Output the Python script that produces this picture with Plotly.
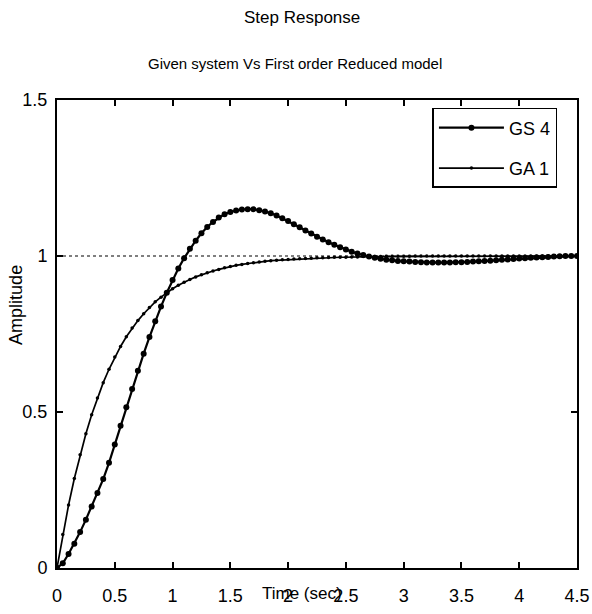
import plotly.graph_objects as go

# Time base (s) shared by both step responses
time_s = [round(0.05 * i, 2) for i in range(91)]

# Step response of the given 4th-order system (GS 4)
gs4 = [
    0.000, 0.015, 0.045, 0.078, 0.115, 0.155, 0.197, 0.240, 0.285, 0.337,
    0.396, 0.456, 0.515, 0.574, 0.632, 0.687, 0.740, 0.791, 0.838, 0.882,
    0.923, 0.960, 0.993, 1.023, 1.049, 1.073, 1.093, 1.109, 1.123, 1.134,
    1.141, 1.146, 1.149, 1.150, 1.150, 1.147, 1.143, 1.137, 1.130, 1.121,
    1.112, 1.102, 1.092, 1.082, 1.072, 1.062, 1.053, 1.044, 1.036, 1.028,
    1.021, 1.014, 1.008, 1.003, 0.998, 0.994, 0.991, 0.988, 0.986, 0.984,
    0.983, 0.982, 0.981, 0.980, 0.979, 0.979, 0.979, 0.979, 0.979, 0.980,
    0.980, 0.981, 0.982, 0.983, 0.984, 0.985, 0.986, 0.988, 0.989, 0.990,
    0.992, 0.993, 0.994, 0.995, 0.996, 0.997, 0.998, 0.999, 1.000, 1.000,
    1.000,
]

# Step response of the first-order reduced model (GA 1)
ga1 = [
    0.000, 0.107, 0.202, 0.287, 0.363, 0.430, 0.491, 0.545, 0.594, 0.637,
    0.676, 0.710, 0.741, 0.769, 0.793, 0.815, 0.835, 0.853, 0.868, 0.882,
    0.895, 0.906, 0.916, 0.925, 0.933, 0.940, 0.946, 0.952, 0.957, 0.962,
    0.966, 0.970, 0.973, 0.976, 0.978, 0.981, 0.983, 0.985, 0.986, 0.988,
    0.989, 0.990, 0.991, 0.992, 0.993, 0.994, 0.994, 0.995, 0.996, 0.996,
    0.996, 0.997, 0.997, 0.998, 0.998, 0.998, 0.998, 0.999, 0.999, 0.999,
    0.999, 0.999, 1.000, 1.000, 1.000, 1.000, 1.000, 1.000, 1.000, 1.000,
    1.000, 1.000, 1.000, 1.000, 1.000, 1.000, 1.000, 1.000, 1.000, 1.000,
    1.000, 1.000, 1.000, 1.000, 1.000, 1.000, 1.000, 1.000, 1.000, 1.000,
    1.000,
]

x_ticks = [0, 0.5, 1, 1.5, 2, 2.5, 3, 3.5, 4, 4.5]
x_tick_text = ["0", "0.5", "1", "1.5", "2", "2.5", "3", "3.5", "4", "4.5"]
y_ticks = [0, 0.5, 1, 1.5]
y_tick_text = ["0", "0.5", "1", "1.5"]
final_value = 1.0

FONT = "Liberation Sans Narrow, Arial Narrow, Liberation Sans, Arial, sans-serif"

fig = go.Figure()
fig.add_trace(go.Scatter(
    x=time_s, y=gs4, name="GS 4", mode="lines+markers", legendgroup="gs4",
    line=dict(color="black", width=2.2),
    marker=dict(color="black", size=6, symbol="circle"),
))
fig.add_trace(go.Scatter(
    x=time_s, y=ga1, name="GA 1", mode="lines+markers", legendgroup="ga1",
    line=dict(color="black", width=1.7),
    marker=dict(color="black", size=3.5, symbol="circle"),
))

# Steady-state reference line
fig.add_shape(type="line", xref="x", yref="y",
              x0=x_ticks[0], x1=x_ticks[-1], y0=final_value, y1=final_value,
              line=dict(color="black", width=1.2, dash="dot"), layer="below")

axis_common = dict(
    showline=True, linecolor="black", linewidth=2, mirror="allticks",
    ticks="inside", ticklen=6, tickwidth=1.5, tickcolor="black",
    showgrid=False, zeroline=False, automargin=False,
    tickfont=dict(family=FONT, size=18, color="black"),
)

fig.update_xaxes(range=[0, 4.5], tickvals=x_ticks, ticktext=x_tick_text,
                 ticklabelstandoff=10, **axis_common)
fig.update_yaxes(range=[0, 1.5], tickvals=y_ticks, ticktext=y_tick_text,
                 ticklabelstandoff=4, **axis_common)

fig.add_annotation(text="Step Response", xref="paper", yref="paper",
                   x=0.471, y=1.177, xanchor="center", yanchor="middle", showarrow=False,
                   font=dict(family=FONT, size=17, color="black"))
fig.add_annotation(text="Given system Vs First order Reduced model", xref="paper", yref="paper",
                   x=0.458, y=1.079, xanchor="center", yanchor="middle", showarrow=False,
                   font=dict(family=FONT, size=15, color="black"))
fig.add_annotation(text="Time (sec)", xref="paper", yref="paper",
                   x=0.471, y=-0.055, xanchor="center", yanchor="middle", showarrow=False,
                   font=dict(family=FONT, size=17, color="black"))
fig.add_annotation(text="Amplitude", xref="paper", yref="paper",
                   x=-0.079, y=0.562, xanchor="center", yanchor="middle",
                   showarrow=False, textangle=-90,
                   font=dict(family="Liberation Sans, Arial, sans-serif", size=18, color="black"))

fig.update_layout(
    width=592, height=614,
    margin=dict(l=57, r=15, t=100, b=46, autoexpand=False),
    paper_bgcolor="white", plot_bgcolor="white",
    showlegend=True,
    legend=dict(
        x=0.722, y=0.983, xanchor="left", yanchor="top",
        bgcolor="white", bordercolor="black", borderwidth=1.5,
        font=dict(family=FONT, size=18, color="black"),
        itemwidth=65, tracegroupgap=14, traceorder="grouped",
    ),
)

fig.write_html("out.html")
